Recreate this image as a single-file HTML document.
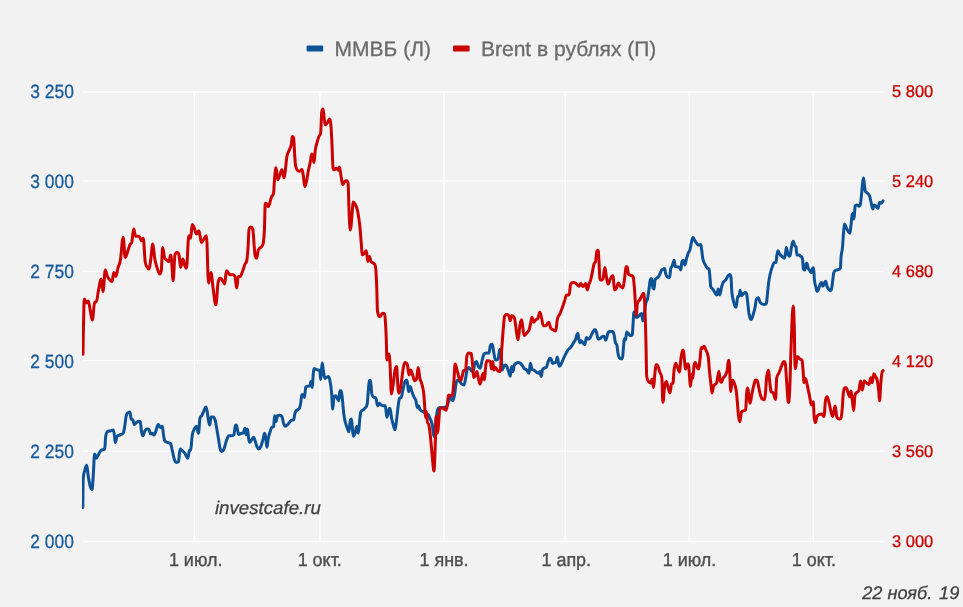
<!DOCTYPE html>
<html lang="ru"><head><meta charset="utf-8"><title>ММВБ и Brent в рублях</title>
<style>html,body{margin:0;padding:0;background:#f2f2f2;}body{width:963px;height:607px;overflow:hidden;}svg{display:block;will-change:transform;}text{font-family:"Liberation Sans",sans-serif;text-rendering:geometricPrecision;}</style></head><body>
<svg width="963" height="607" viewBox="0 0 963 607">
<rect x="0" y="0" width="963" height="607" fill="#f2f2f2"/>
<g fill="#ffffff">
<rect x="193.80" y="91.35" width="1.30" height="450.80"/>
<rect x="319.30" y="91.35" width="1.30" height="450.80"/>
<rect x="443.30" y="91.35" width="1.30" height="450.80"/>
<rect x="564.55" y="91.35" width="1.30" height="450.80"/>
<rect x="688.55" y="91.35" width="1.30" height="450.80"/>
<rect x="812.65" y="91.35" width="1.30" height="450.80"/>
<rect x="83" y="91.35" width="801" height="1.30"/>
<rect x="83" y="180.35" width="801" height="1.30"/>
<rect x="83" y="270.65" width="801" height="1.30"/>
<rect x="83" y="359.95" width="801" height="1.30"/>
<rect x="83" y="450.45" width="801" height="1.30"/>
<rect x="83" y="540.85" width="801" height="1.30"/>
</g>
<g font-size="19.2" fill="#185a9c" stroke="#185a9c" stroke-width="0.3" text-anchor="end">
<text transform="translate(73.9,98.00) scale(0.908,1)">3 250</text>
<text transform="translate(73.9,187.90) scale(0.908,1)">3 000</text>
<text transform="translate(73.9,277.80) scale(0.908,1)">2 750</text>
<text transform="translate(73.9,367.70) scale(0.908,1)">2 500</text>
<text transform="translate(73.9,457.60) scale(0.908,1)">2 250</text>
<text transform="translate(73.9,547.50) scale(0.908,1)">2 000</text>
</g>
<g font-size="17" fill="#cc0000" stroke="#cc0000" stroke-width="0.3" text-anchor="start">
<text transform="translate(892.1,97.10) scale(0.967,1)">5 800</text>
<text transform="translate(892.1,187.00) scale(0.967,1)">5 240</text>
<text transform="translate(892.1,276.90) scale(0.967,1)">4 680</text>
<text transform="translate(892.1,366.80) scale(0.967,1)">4 120</text>
<text transform="translate(892.1,456.70) scale(0.967,1)">3 560</text>
<text transform="translate(892.1,546.60) scale(0.967,1)">3 000</text>
</g>
<g font-size="18.8" fill="#4e4e4e" stroke="#4e4e4e" stroke-width="0.4" text-anchor="middle">
<text transform="translate(195.65,566.3) scale(0.955,1)">1 июл.</text>
<text transform="translate(319.75,566.3) scale(0.955,1)">1 окт.</text>
<text transform="translate(444.05,566.3) scale(0.955,1)">1 янв.</text>
<text transform="translate(566.25,566.3) scale(0.955,1)">1 апр.</text>
<text transform="translate(689.45,566.3) scale(0.955,1)">1 июл.</text>
<text transform="translate(813.95,566.3) scale(0.955,1)">1 окт.</text>
</g>
<text transform="translate(214.9,514.2) scale(1.022,1)" font-size="18.3" font-style="italic" fill="#404040" stroke="#404040" stroke-width="0.25">investcafe.ru</text>
<text x="959.3" y="599.25" font-size="18.2" font-style="italic" fill="#404040" stroke="#404040" stroke-width="0.25" text-anchor="end">22 нояб.<tspan dx="1.8"> 19</tspan></text>
<rect x="306.6" y="45.55" width="16.6" height="5.9" rx="1" fill="#0d5295"/>
<text x="334.6" y="55.8" font-size="21" fill="#6b6b6b" stroke="#6b6b6b" stroke-width="0.3">ММВБ (Л)</text>
<rect x="453.0" y="45.55" width="16.6" height="5.9" rx="1" fill="#cc0000"/>
<text x="481.0" y="55.8" font-size="21" fill="#6b6b6b" stroke="#6b6b6b" stroke-width="0.3">Brent в рублях (П)</text>
<defs><clipPath id="plot"><rect x="82" y="80" width="803.5" height="470"/></clipPath></defs>
<g fill="none" stroke-width="3" stroke-linejoin="round" stroke-linecap="round" clip-path="url(#plot)">
<path stroke="#0d5295" d="M82.8 507.6C82.8 507.6 83.0 490.9 83.1 480.4C83.9 469.9 84.2 473.1 85.0 469.9C85.7 467.0 86.0 465.2 86.7 465.2C87.3 465.2 87.7 472.7 88.3 476.5C89.1 481.2 89.5 483.7 90.3 486.5C91.0 488.9 91.3 489.5 92.0 489.5C92.5 489.5 92.8 482.0 93.3 474.9C93.8 467.8 94.1 454.1 94.6 454.1C95.3 454.1 95.6 458.2 96.3 458.2C97.1 458.2 97.5 456.2 98.3 454.9C99.5 453.0 100.1 450.8 101.3 450.2C102.1 449.6 102.5 449.9 103.3 449.6C103.8 449.4 104.1 449.6 104.6 449.1C105.1 448.6 105.3 438.8 105.8 435.8C106.4 431.8 106.8 432.4 107.4 431.6C108.8 430.8 109.4 431.2 110.8 430.8C111.8 430.5 112.3 429.9 113.3 429.9C113.7 429.9 114.0 432.2 114.4 434.9C114.8 437.2 114.9 442.4 115.3 442.4C115.9 442.4 116.3 438.3 116.9 436.6C118.1 434.9 118.7 435.7 119.9 434.9C121.4 434.0 122.1 434.9 123.6 432.4C124.1 429.9 124.4 428.3 124.9 425.0C125.4 421.7 125.7 417.6 126.2 415.8C127.2 412.6 127.6 413.0 128.6 412.5C129.1 412.0 129.4 412.0 129.9 412.0C130.4 412.0 130.7 418.2 131.2 419.1C131.9 420.0 132.2 419.1 132.9 420.0C133.5 420.9 133.8 424.6 134.4 424.6C135.2 424.6 135.7 423.2 136.5 422.5C137.3 421.9 137.7 421.3 138.5 421.3C139.2 421.3 139.5 421.3 140.2 421.6C140.7 421.9 141.0 428.9 141.5 431.6C142.1 434.5 142.3 435.8 142.9 435.8C143.7 435.8 144.1 432.0 144.9 430.8C145.9 429.3 146.4 429.1 147.4 429.1C148.0 429.1 148.4 429.1 149.0 429.6C149.7 430.1 150.0 434.1 150.7 434.1C151.3 434.1 151.7 433.3 152.3 433.3C153.0 433.3 153.3 434.9 154.0 434.9C154.7 434.9 155.0 433.3 155.7 431.6C156.7 429.1 157.2 424.6 158.2 424.6C159.2 424.6 159.7 427.5 160.7 427.5C161.3 427.5 161.7 426.3 162.3 426.3C162.8 426.3 163.0 431.8 163.5 434.9C163.9 437.4 164.1 438.2 164.5 440.3C165.6 442.4 166.2 441.8 167.3 442.4C168.6 443.1 169.3 442.4 170.6 443.6C171.3 444.8 171.6 447.9 172.3 450.7C173.2 454.4 173.6 457.4 174.5 459.9C175.3 462.1 175.7 462.4 176.5 462.4C177.3 462.4 177.7 462.4 178.5 461.5C179.1 460.6 179.5 449.1 180.1 449.1C181.0 449.1 181.4 449.9 182.3 450.7C183.3 451.6 183.8 451.8 184.8 453.2C186.0 454.8 186.6 458.2 187.8 458.2C188.4 458.2 188.8 451.5 189.4 450.7C189.9 449.9 190.1 450.7 190.6 449.9C191.3 449.1 191.6 439.0 192.3 434.9C192.9 431.0 193.3 431.2 193.9 429.9C194.9 427.8 195.4 426.3 196.4 426.3C197.2 426.3 197.6 433.3 198.4 433.3C199.1 433.3 199.4 419.2 200.1 417.5C200.7 415.8 201.1 416.9 201.7 415.8C202.6 414.2 203.0 412.6 203.9 410.8C204.7 409.1 205.1 407.0 205.9 407.0C206.4 407.0 206.7 409.0 207.2 411.7C207.7 414.2 207.9 417.4 208.4 420.0C208.9 422.8 209.2 425.0 209.7 425.0C210.3 425.0 210.5 417.0 211.1 417.0C211.9 417.0 212.3 417.0 213.1 417.0C213.9 417.0 214.3 417.5 215.1 420.0C215.7 422.0 216.1 424.8 216.7 428.3C217.4 432.1 217.7 434.4 218.4 438.3C219.2 443.1 219.7 448.2 220.5 449.9C221.0 451.6 221.2 451.6 221.7 451.6C222.6 451.6 223.0 451.1 223.9 449.1C224.9 446.8 225.4 443.5 226.4 440.8C227.4 438.1 227.9 435.8 228.9 435.8C229.9 435.8 230.4 435.8 231.4 435.8C232.4 435.8 232.8 435.8 233.8 434.9C234.5 434.0 234.8 425.7 235.5 425.3C235.8 424.9 236.0 424.9 236.3 424.9C236.8 424.9 237.0 427.8 237.5 429.8C237.9 431.6 238.2 434.5 238.6 434.5C239.5 434.5 239.9 433.8 240.8 433.5C241.8 433.1 242.3 433.5 243.3 432.8C244.0 432.1 244.3 428.2 245.0 428.2C245.4 428.2 245.7 434.8 246.1 434.8C246.7 434.8 246.9 429.0 247.5 429.0C247.9 429.0 248.2 435.4 248.6 438.2C249.0 440.7 249.2 442.3 249.6 442.3C250.4 442.3 250.8 440.8 251.6 439.8C252.4 438.8 252.8 437.3 253.6 437.3C254.3 437.3 254.6 439.6 255.3 441.5C255.9 443.3 256.3 445.0 256.9 446.5C257.6 448.0 257.9 449.0 258.6 449.0C259.5 449.0 259.9 448.4 260.8 446.5C261.6 444.7 262.1 442.7 262.9 439.8C263.6 437.4 263.9 433.2 264.6 433.2C265.1 433.2 265.3 435.3 265.8 438.2C266.2 440.9 266.5 447.3 266.9 447.3C267.5 447.3 267.7 441.0 268.3 438.2C268.9 435.0 269.3 434.2 269.9 432.3C270.7 429.9 271.1 428.1 271.9 427.3C272.6 426.5 272.9 427.3 273.6 426.5C274.0 425.7 274.2 415.7 274.6 415.7C275.2 415.7 275.6 421.5 276.2 421.5C276.7 421.5 276.9 416.2 277.4 415.7C278.4 415.2 278.9 415.2 279.9 415.2C280.7 415.2 281.1 415.2 281.9 416.5C282.6 417.8 282.9 421.2 283.6 423.2C284.2 425.1 284.6 426.2 285.2 426.2C286.1 426.2 286.5 425.7 287.4 424.9C288.2 424.2 288.7 423.4 289.5 422.4C290.3 421.5 290.7 420.5 291.5 420.2C292.3 419.9 292.7 420.2 293.5 419.9C294.2 419.6 294.5 414.1 295.2 412.4C296.1 410.1 296.5 410.8 297.4 409.9C298.2 409.1 298.7 409.9 299.5 408.2C300.0 406.5 300.2 405.9 300.7 403.2C301.2 400.5 301.4 395.2 301.9 394.9C302.4 394.6 302.7 394.6 303.2 394.6C303.7 394.6 304.0 397.4 304.5 397.4C305.0 397.4 305.2 388.5 305.7 387.4C306.3 386.3 306.7 386.5 307.3 386.3C308.3 385.9 308.8 386.3 309.8 385.8C310.3 385.3 310.5 381.6 311.0 381.6C311.5 381.6 311.8 387.4 312.3 387.4C312.7 387.4 312.8 379.0 313.2 375.0C313.5 371.5 313.7 368.6 314.0 368.6C314.7 368.6 315.0 368.8 315.7 369.1C316.5 369.4 317.0 369.8 317.8 370.0C318.6 370.2 319.0 370.0 319.8 370.3C320.1 370.6 320.3 379.6 320.6 379.6C321.0 379.6 321.1 373.5 321.5 370.0C321.8 366.9 322.0 363.0 322.3 363.0C322.8 363.0 323.0 368.7 323.5 371.6C324.0 374.8 324.3 378.3 324.8 378.3C325.5 378.3 325.8 377.8 326.5 377.5C327.3 377.1 327.7 376.6 328.5 376.6C329.1 376.6 329.5 378.4 330.1 381.6C330.7 384.4 330.9 385.9 331.5 391.6C332.0 396.9 332.3 409.1 332.8 409.1C333.3 409.1 333.5 397.5 334.0 396.6C334.6 395.7 335.0 395.7 335.6 395.7C336.3 395.7 336.6 397.6 337.3 398.6C337.9 399.6 338.3 400.7 338.9 400.7C339.3 400.7 339.4 390.8 339.8 390.8C340.3 390.8 340.6 390.8 341.1 390.8C341.6 390.8 341.8 394.1 342.3 398.2C342.9 403.7 343.3 410.1 343.9 414.9C344.6 420.1 344.9 420.5 345.6 423.2C346.3 425.9 346.6 426.4 347.3 428.2C347.9 429.9 348.3 431.8 348.9 431.8C349.4 431.8 349.6 424.0 350.1 421.5C350.6 419.0 350.9 419.0 351.4 419.0C351.7 419.0 351.9 423.7 352.2 426.5C352.7 430.6 352.9 436.2 353.4 436.2C354.1 436.2 354.4 435.2 355.1 433.2C355.7 431.3 356.1 426.5 356.7 426.5C357.4 426.5 357.7 433.2 358.4 433.2C358.9 433.2 359.2 424.8 359.7 419.9C360.1 416.5 360.2 414.9 360.6 412.4C361.6 409.9 362.1 410.9 363.1 409.9C364.1 408.9 364.6 408.8 365.6 407.4C366.2 406.5 366.6 407.4 367.2 404.1C367.7 400.8 367.9 395.0 368.4 389.9C368.8 385.7 369.0 381.3 369.4 380.8C369.8 380.3 370.1 380.3 370.5 380.3C371.0 380.3 371.2 389.7 371.7 393.3C372.4 396.9 372.7 396.1 373.4 396.9C374.4 398.2 375.0 396.9 376.0 398.6C376.7 400.3 377.0 405.7 377.7 405.7C378.4 405.7 378.7 403.2 379.4 403.2C380.0 403.2 380.4 404.5 381.0 404.9C381.8 405.5 382.2 405.7 383.0 405.7C383.9 405.7 384.4 405.7 385.3 405.7C385.9 405.7 386.3 417.3 386.9 417.3C387.8 417.3 388.2 409.8 389.1 409.0C389.4 408.2 389.6 408.2 389.9 408.2C390.6 408.2 390.9 414.9 391.6 418.2C392.3 421.5 392.6 422.4 393.3 424.8C393.9 427.0 394.3 429.8 394.9 429.8C395.6 429.8 395.9 424.8 396.6 419.8C397.3 414.8 397.6 409.8 398.3 404.9C398.8 401.2 399.1 399.0 399.6 398.2C400.2 397.4 400.6 398.2 401.2 397.4C401.9 396.6 402.2 392.8 402.9 389.9C403.7 386.5 404.1 383.3 404.9 381.6C405.7 379.9 406.1 379.9 406.9 379.9C407.6 379.9 407.9 391.6 408.6 391.6C409.2 391.6 409.6 386.6 410.2 386.6C410.9 386.6 411.2 389.7 411.9 391.6C412.8 394.0 413.2 395.5 414.1 397.4C414.7 398.8 415.1 398.0 415.7 399.9C416.4 402.0 416.7 407.4 417.4 407.4C417.8 407.4 418.1 405.7 418.5 405.7C419.2 405.7 419.5 409.0 420.2 409.9C421.3 411.3 421.8 410.9 422.9 411.5C424.0 412.2 424.6 412.5 425.7 413.2C426.7 413.8 427.2 413.6 428.2 414.8C428.9 415.6 429.2 416.5 429.9 418.2C430.9 420.5 431.3 420.5 432.3 424.8C433.0 427.8 433.3 436.5 434.0 436.5C435.0 436.5 435.5 423.5 436.5 416.0C436.9 412.7 437.2 411.5 437.6 409.5C438.6 407.5 439.0 407.6 440.0 407.5C441.6 407.4 442.4 407.5 444.0 407.4C445.0 407.3 445.5 407.4 446.5 406.5C447.3 405.6 447.7 403.8 448.5 402.0C449.3 400.1 449.8 397.4 450.6 397.4C451.5 397.4 451.9 400.7 452.8 400.7C453.5 400.7 453.8 398.4 454.5 394.9C455.3 390.8 455.7 383.3 456.5 381.6C457.1 379.9 457.5 379.9 458.1 379.9C458.8 379.9 459.1 380.8 459.8 381.6C460.6 382.5 461.0 383.5 461.8 384.1C462.7 384.8 463.1 384.9 464.0 384.9C464.6 384.9 465.0 381.4 465.6 378.3C466.3 375.0 466.6 370.8 467.3 369.1C467.9 367.4 468.3 367.4 468.9 367.4C469.9 367.4 470.4 369.8 471.4 370.8C472.1 371.5 472.4 371.6 473.1 371.6C473.8 371.6 474.1 365.0 474.8 363.3C475.4 361.6 475.8 361.6 476.4 361.6C477.2 361.6 477.6 365.2 478.4 366.6C479.1 367.8 479.4 368.3 480.1 368.3C480.9 368.3 481.4 363.1 482.2 360.0C482.9 357.5 483.2 355.2 483.9 354.1C484.8 353.0 485.2 353.0 486.1 353.0C487.2 353.0 487.8 353.0 488.9 353.0C489.6 353.0 489.9 345.8 490.6 345.0C491.2 344.2 491.6 344.2 492.2 344.2C492.9 344.2 493.2 350.1 493.9 353.3C494.6 356.5 494.9 360.0 495.6 360.0C496.6 360.0 497.0 360.0 498.0 359.1C498.7 358.2 499.0 350.9 499.7 350.0C500.2 349.1 500.5 349.1 501.0 349.1C501.5 349.1 501.7 369.9 502.2 369.9C503.0 369.9 503.4 366.5 504.2 365.7C504.8 364.9 505.2 364.9 505.8 364.9C506.5 364.9 506.8 366.5 507.5 368.2C508.1 369.8 508.5 371.4 509.1 373.2C509.6 374.6 509.8 376.2 510.3 376.2C510.8 376.2 511.1 366.5 511.6 366.5C512.2 366.5 512.4 371.5 513.0 371.5C513.4 371.5 513.7 367.0 514.1 365.7C514.8 363.8 515.1 364.0 515.8 363.5C516.8 362.7 517.3 362.4 518.3 362.4C519.1 362.4 519.5 362.6 520.3 363.2C521.2 363.9 521.6 364.5 522.5 365.7C523.1 366.6 523.5 367.9 524.1 368.5C525.1 369.5 525.6 368.9 526.6 369.8C527.6 370.7 528.1 373.2 529.1 373.2C529.6 373.2 529.8 363.2 530.3 363.2C530.9 363.2 531.3 367.8 531.9 369.0C532.8 370.2 533.2 369.6 534.1 370.2C535.1 370.9 535.6 371.6 536.6 372.3C537.4 372.8 537.8 373.2 538.6 373.2C539.1 373.2 539.4 371.5 539.9 371.5C540.4 371.5 540.7 376.5 541.2 376.5C541.7 376.5 541.9 371.4 542.4 369.8C543.1 368.2 543.4 368.7 544.1 368.2C545.1 367.5 545.6 368.2 546.6 366.9C547.2 365.6 547.6 363.2 548.2 361.5C548.9 359.7 549.2 358.2 549.9 358.2C550.4 358.2 550.7 358.2 551.2 359.0C551.7 359.8 551.9 363.2 552.4 363.2C553.1 363.2 553.4 363.1 554.1 362.9C554.7 362.7 555.1 362.9 555.7 362.4C556.4 361.9 556.7 356.9 557.4 356.9C557.8 356.9 558.1 361.3 558.5 363.2C558.9 365.0 559.1 366.2 559.5 366.2C560.3 366.2 560.7 364.8 561.5 363.2C562.5 361.2 563.0 359.6 564.0 357.4C564.9 355.5 565.3 354.5 566.2 352.9C567.0 351.4 567.4 350.6 568.2 349.6C569.2 348.4 569.7 348.7 570.7 347.4C571.7 346.1 572.2 344.9 573.2 343.2C574.2 341.5 574.7 341.4 575.7 339.1C576.1 338.1 576.4 336.1 576.8 334.9C577.2 333.9 577.4 333.6 577.8 333.6C578.3 333.6 578.5 337.7 579.0 339.9C579.3 341.4 579.5 342.9 579.8 342.9C580.4 342.9 580.6 340.7 581.2 340.7C582.0 340.7 582.4 342.3 583.2 343.2C583.8 343.9 584.2 344.6 584.8 344.6C585.5 344.6 585.8 337.4 586.5 337.4C587.1 337.4 587.5 339.1 588.1 339.1C588.8 339.1 589.1 339.0 589.8 338.2C590.5 337.4 590.8 336.3 591.5 334.9C592.3 333.3 592.7 332.0 593.5 330.8C594.1 329.9 594.5 329.6 595.1 329.6C595.7 329.6 595.9 330.6 596.5 332.4C597.1 334.4 597.5 339.1 598.1 339.1C598.8 339.1 599.1 339.0 599.8 338.6C600.8 338.0 601.3 337.2 602.3 336.6C603.0 336.2 603.3 336.2 604.0 336.2C604.6 336.2 605.0 340.2 605.6 340.2C606.1 340.2 606.3 338.9 606.8 337.4C607.3 335.8 607.6 333.2 608.1 332.4C608.8 331.6 609.1 331.6 609.8 331.6C610.8 331.6 611.3 331.6 612.3 331.6C612.9 331.6 613.3 331.9 613.9 334.1C614.6 336.5 614.9 341.5 615.6 343.2C616.1 344.9 616.3 343.2 616.8 344.9C617.3 346.6 617.6 351.4 618.1 354.0C618.6 356.6 618.9 356.8 619.4 357.9C620.2 359.0 620.6 359.0 621.4 359.0C621.9 359.0 622.2 359.0 622.7 356.5C623.0 354.0 623.1 351.1 623.4 348.2C623.8 344.0 624.0 338.6 624.4 338.6C624.9 338.6 625.1 339.9 625.6 339.9C626.0 339.9 626.3 331.9 626.7 331.9C627.4 331.9 627.7 332.9 628.4 333.6C629.3 334.5 629.7 335.7 630.6 335.7C631.2 335.7 631.6 335.7 632.2 334.9C632.6 334.1 632.7 328.0 633.1 323.3C633.4 319.1 633.6 313.4 633.9 312.5C634.4 311.6 634.6 311.6 635.1 311.6C635.6 311.6 635.9 317.5 636.4 317.5C637.2 317.5 637.6 317.0 638.4 316.3C639.2 315.6 639.7 314.8 640.5 314.1C641.0 313.7 641.2 313.6 641.7 313.6C642.1 313.6 642.3 320.8 642.7 320.8C643.9 320.8 644.6 308.8 645.8 303.2C646.5 300.1 646.8 302.1 647.5 299.0C648.1 296.1 648.5 292.6 649.1 288.2C649.6 284.9 649.8 281.2 650.3 279.9C650.8 278.6 651.1 278.6 651.6 278.6C652.2 278.6 652.4 287.4 653.0 288.2C653.4 289.0 653.7 289.0 654.1 289.0C654.5 289.0 654.6 281.6 655.0 279.9C655.6 278.2 656.0 278.9 656.6 278.2C657.6 277.2 658.1 277.3 659.1 275.7C660.0 274.3 660.4 272.1 661.3 270.7C662.1 269.4 662.5 269.6 663.3 269.1C663.8 268.8 664.1 268.6 664.6 268.6C665.1 268.6 665.3 272.7 665.8 274.1C666.4 276.0 666.8 276.4 667.4 276.9C668.3 277.4 668.7 277.4 669.6 277.4C670.1 277.4 670.3 269.8 670.8 268.2C671.2 266.6 671.5 267.6 671.9 266.6C672.5 265.3 672.7 264.0 673.3 262.4C673.6 261.5 673.8 260.3 674.1 260.3C674.6 260.3 674.8 266.3 675.3 266.6C676.1 266.9 676.6 266.7 677.4 266.9C678.3 267.1 678.7 266.9 679.6 267.4C680.0 267.9 680.3 269.9 680.7 269.9C681.2 269.9 681.4 263.5 681.9 261.9C682.4 260.3 682.7 260.3 683.2 260.3C683.9 260.3 684.2 264.9 684.9 264.9C685.6 264.9 685.9 260.7 686.6 258.3C687.2 256.1 687.6 254.9 688.2 253.3C688.9 251.6 689.2 252.2 689.9 249.9C690.6 247.6 690.9 244.4 691.6 241.6C692.1 239.5 692.4 237.5 692.9 237.5C693.6 237.5 693.9 239.3 694.6 240.3C695.4 241.5 695.7 242.1 696.5 243.0C697.3 244.0 697.7 245.0 698.5 245.0C699.4 245.0 699.8 244.6 700.7 244.6C701.2 244.6 701.4 248.4 701.9 251.6C702.3 254.2 702.5 257.4 702.9 259.1C703.7 262.4 704.1 262.5 704.9 264.1C705.9 266.1 706.4 267.0 707.4 268.2C708.0 269.0 708.4 268.2 709.0 269.1C709.4 270.0 709.5 272.9 709.9 276.6C710.2 279.9 710.4 284.0 710.7 286.5C711.5 289.0 712.0 287.8 712.8 289.0C713.6 290.2 714.0 291.2 714.8 292.4C715.6 293.6 716.0 294.9 716.8 294.9C717.4 294.9 717.6 289.0 718.2 289.0C718.8 289.0 719.2 294.9 719.8 294.9C720.5 294.9 720.8 289.9 721.5 287.4C722.2 284.9 722.5 283.6 723.2 282.4C724.2 280.6 724.7 281.3 725.7 279.9C726.7 278.6 727.1 276.9 728.1 275.7C728.8 274.8 729.1 274.6 729.8 274.6C730.3 274.6 730.6 274.6 731.1 278.2C731.4 281.8 731.5 288.2 731.8 291.5C732.2 296.2 732.4 296.2 732.8 298.2C733.5 301.5 733.8 302.9 734.5 304.8C735.1 306.6 735.5 307.3 736.1 307.3C736.8 307.3 737.1 296.8 737.8 296.5C738.3 296.2 738.5 296.5 739.0 296.2C739.4 295.9 739.7 290.2 740.1 290.2C740.7 290.2 740.9 295.7 741.5 295.7C742.3 295.7 742.7 294.1 743.5 293.5C744.3 292.8 744.8 292.4 745.6 292.4C746.1 292.4 746.3 292.5 746.8 294.9C747.2 296.9 747.4 299.7 747.8 303.2C748.2 307.0 748.5 310.9 748.9 313.1C749.8 317.4 750.2 319.5 751.1 319.5C751.9 319.5 752.3 317.2 753.1 314.8C753.9 312.4 754.3 311.1 755.1 307.3C755.6 304.8 755.9 300.2 756.4 299.0C757.2 297.8 757.6 297.8 758.4 297.8C759.1 297.8 759.4 301.2 760.1 302.3C760.9 303.7 761.4 303.6 762.2 304.0C763.2 304.5 763.7 304.5 764.7 304.5C765.4 304.5 765.7 304.5 766.4 303.2C766.9 301.9 767.2 296.2 767.7 291.5C768.2 287.2 768.4 283.9 768.9 280.7C769.6 276.2 769.9 275.1 770.6 272.4C771.4 269.1 771.9 267.9 772.7 265.7C773.4 263.9 773.7 262.4 774.4 262.4C775.0 262.4 775.4 262.4 776.0 262.4C776.3 262.4 776.4 258.2 776.7 256.6C777.2 253.6 777.5 250.8 778.0 250.8C778.7 250.8 779.0 253.2 779.7 254.1C780.7 255.5 781.2 255.7 782.2 256.6C783.1 257.4 783.5 258.3 784.4 258.3C784.8 258.3 785.1 255.7 785.5 253.3C785.9 251.4 786.0 247.5 786.4 247.5C786.9 247.5 787.2 251.6 787.7 253.3C788.2 254.9 788.4 255.3 788.9 255.8C789.3 256.3 789.4 256.3 789.8 256.3C790.5 256.3 790.8 249.9 791.5 246.9C792.2 243.9 792.5 241.3 793.2 241.3C793.8 241.3 794.2 244.3 794.8 245.6C795.3 246.6 795.5 245.6 796.0 246.9C796.4 248.2 796.5 255.0 796.9 255.0C797.7 255.0 798.0 255.0 798.8 255.0C799.6 255.0 799.9 255.5 800.7 256.3C801.4 257.0 801.8 256.3 802.5 258.8C802.9 261.3 803.1 268.7 803.5 269.4C804.0 270.1 804.3 270.1 804.8 270.1C805.3 270.1 805.6 264.4 806.1 263.8C806.4 263.2 806.6 263.2 806.9 263.2C807.4 263.2 807.7 266.9 808.2 268.2C808.8 269.9 809.2 269.8 809.8 270.7C810.4 271.6 810.7 272.6 811.3 272.6C811.8 272.6 812.1 268.6 812.6 268.2C813.0 267.8 813.2 267.8 813.6 267.8C813.9 267.8 814.1 277.3 814.4 280.1C814.9 284.7 815.2 284.2 815.7 286.3C816.3 288.8 816.6 291.6 817.2 291.6C817.8 291.6 818.2 289.8 818.8 288.2C819.4 286.7 819.7 285.0 820.3 283.8C820.8 282.8 821.1 282.6 821.6 282.6C822.1 282.6 822.3 286.3 822.8 286.3C823.5 286.3 823.8 283.8 824.5 282.6C825.0 281.8 825.2 281.3 825.7 281.3C826.2 281.3 826.5 285.0 827.0 286.3C827.8 288.2 828.1 288.6 828.9 289.5C829.6 290.4 830.0 290.7 830.7 290.7C831.1 290.7 831.2 290.7 831.6 288.9C832.0 286.9 832.2 284.4 832.6 281.3C833.0 278.2 833.2 275.7 833.6 273.2C834.2 270.7 834.5 271.3 835.1 270.7C835.9 269.9 836.2 270.1 837.0 269.8C837.8 269.5 838.1 269.8 838.9 269.4C839.5 269.1 839.8 269.4 840.4 268.2C840.7 267.0 840.8 259.1 841.1 256.3C841.6 251.1 841.9 253.2 842.4 248.2C842.8 244.0 843.1 238.2 843.5 233.2C843.9 228.6 844.1 224.1 844.5 224.1C845.2 224.1 845.5 226.0 846.2 227.4C847.0 229.0 847.4 230.2 848.2 231.5C848.9 232.6 849.2 233.2 849.9 233.2C850.4 233.2 850.7 227.3 851.2 223.2C851.6 219.7 851.9 215.0 852.3 214.1C852.7 213.2 852.8 213.2 853.2 213.2C853.5 213.2 853.7 219.1 854.0 219.1C854.5 219.1 854.7 206.7 855.2 205.8C855.8 204.9 856.2 204.9 856.8 204.9C857.7 204.9 858.1 206.3 859.0 206.3C859.5 206.3 859.7 206.3 860.2 204.9C860.7 203.5 861.0 199.6 861.5 194.9C861.8 192.0 862.0 188.5 862.3 185.8C862.8 181.7 863.0 178.0 863.5 178.0C863.9 178.0 864.1 182.8 864.5 185.8C864.8 187.9 864.9 190.1 865.2 190.8C866.0 193.0 866.5 192.0 867.3 193.0C868.2 194.0 868.6 193.6 869.5 195.8C870.1 197.4 870.5 199.8 871.1 202.4C871.8 205.1 872.1 209.1 872.8 209.1C873.5 209.1 873.8 204.9 874.5 204.9C875.3 204.9 875.7 206.1 876.5 206.9C877.1 207.5 877.5 208.3 878.1 208.3C878.7 208.3 878.9 202.4 879.5 202.4C880.1 202.4 880.5 203.3 881.1 203.3C881.9 203.3 883.1 200.8 883.1 200.8"/>
<path stroke="#cc0000" d="M83.0 354.3C83.0 354.3 83.2 336.8 83.4 330.0C83.8 314.7 83.9 299.0 84.3 299.0C85.1 299.0 85.4 303.0 86.2 303.0C87.0 303.0 87.4 301.0 88.2 301.0C89.0 301.0 89.4 306.3 90.2 310.0C91.0 313.9 91.5 320.0 92.3 320.0C93.3 320.0 93.7 303.1 94.7 302.3C95.3 301.5 95.7 302.3 96.3 301.5C97.2 300.7 97.7 294.1 98.6 289.8C99.6 285.1 100.1 279.0 101.1 279.0C101.9 279.0 102.2 291.5 103.0 291.5C103.9 291.5 104.4 269.9 105.3 269.9C106.1 269.9 106.6 274.7 107.4 276.5C108.4 278.7 108.9 278.8 109.9 279.9C110.8 280.8 111.2 281.5 112.1 281.5C112.8 281.5 113.1 272.4 113.8 272.4C114.6 272.4 115.0 276.5 115.8 276.5C116.6 276.5 117.1 271.2 117.9 268.2C118.9 264.6 119.4 265.7 120.4 259.9C121.5 253.4 122.1 237.5 123.2 237.5C124.0 237.5 124.4 257.4 125.2 257.4C126.1 257.4 126.5 254.7 127.4 252.4C128.4 249.7 128.9 247.3 129.9 244.9C130.7 243.0 131.1 244.9 131.9 241.6C132.6 238.3 133.0 229.1 133.7 229.1C134.5 229.1 134.9 236.3 135.7 236.3C136.7 236.3 137.2 236.3 138.2 236.3C138.9 236.3 139.2 236.6 139.9 237.5C140.5 238.4 140.9 240.8 141.5 240.8C142.2 240.8 142.5 238.3 143.2 238.3C144.0 238.3 144.4 255.8 145.2 261.6C146.1 267.4 146.5 265.7 147.4 267.4C148.0 268.7 148.4 269.1 149.0 269.1C149.7 269.1 150.0 264.4 150.7 259.9C151.5 254.4 152.0 244.1 152.8 244.1C153.6 244.1 154.0 254.8 154.8 259.1C155.8 264.5 156.3 265.2 157.3 268.2C158.3 271.2 158.8 274.0 159.8 274.0C160.4 274.0 160.6 274.0 161.2 271.5C161.8 269.0 162.1 247.4 162.7 247.4C163.4 247.4 163.8 254.9 164.5 257.4C165.3 259.9 165.7 259.2 166.5 259.9C167.5 260.8 168.0 261.6 169.0 261.6C169.6 261.6 170.0 254.9 170.6 254.9C171.1 254.9 171.3 258.2 171.8 263.2C172.3 268.6 172.6 280.7 173.1 280.7C173.9 280.7 174.3 255.8 175.1 254.1C176.0 252.4 176.4 252.4 177.3 252.4C178.0 252.4 178.3 252.4 179.0 254.9C179.6 257.4 180.0 267.4 180.6 267.4C181.5 267.4 181.9 259.1 182.8 259.1C183.6 259.1 184.0 263.7 184.8 265.7C185.4 267.3 185.8 268.2 186.4 268.2C187.4 268.2 187.9 235.8 188.9 235.8C189.6 235.8 189.9 238.3 190.6 238.3C191.3 238.3 191.6 224.6 192.3 224.6C193.1 224.6 193.6 226.4 194.4 228.3C195.2 230.2 195.6 234.1 196.4 234.1C197.4 234.1 197.9 230.8 198.9 230.8C199.9 230.8 200.4 242.4 201.4 242.4C202.4 242.4 202.9 240.4 203.9 239.1C204.9 237.8 205.4 235.8 206.4 235.8C207.3 235.8 207.7 283.2 208.6 283.2C209.5 283.2 210.0 272.4 210.9 272.4C211.8 272.4 212.2 282.5 213.1 288.2C214.2 295.5 214.8 304.8 215.9 304.8C216.7 304.8 217.2 288.2 218.0 283.2C219.0 278.2 219.5 278.2 220.5 278.2C221.5 278.2 222.0 280.1 223.0 281.5C223.7 282.4 224.0 284.0 224.7 284.0C225.4 284.0 225.7 270.7 226.4 270.7C227.0 270.7 227.4 271.7 228.0 272.4C228.8 273.3 229.2 274.8 230.0 274.8C231.3 274.8 232.0 274.8 233.3 274.8C234.0 274.8 234.3 274.8 235.0 276.5C235.7 278.2 236.0 288.1 236.7 288.1C237.3 288.1 237.7 276.5 238.3 276.5C239.0 276.5 239.3 276.5 240.0 276.5C241.0 276.5 241.5 274.0 242.5 271.5C243.5 269.0 244.0 266.4 245.0 264.0C245.6 262.4 246.0 264.0 246.6 261.5C247.2 259.0 247.4 255.5 248.0 248.2C248.4 242.5 248.7 231.3 249.1 229.1C249.8 226.9 250.1 226.9 250.8 226.9C251.6 226.9 252.0 226.9 252.8 229.1C253.3 231.3 253.6 239.2 254.1 244.9C254.6 250.2 254.8 254.8 255.3 256.5C255.8 258.2 256.1 258.2 256.6 258.2C257.3 258.2 257.6 252.4 258.3 249.9C259.3 247.4 259.8 248.7 260.8 247.4C261.8 246.1 262.3 247.4 263.3 243.2C263.7 239.0 264.0 238.7 264.4 229.9C264.8 222.7 264.9 203.3 265.3 203.3C265.9 203.3 266.3 203.4 266.9 204.1C267.5 204.7 267.7 206.6 268.3 206.6C268.9 206.6 269.3 204.4 269.9 202.5C270.6 200.5 270.9 198.4 271.6 196.7C272.4 194.7 272.8 196.7 273.6 193.1C274.0 189.5 274.2 182.2 274.6 178.2C275.2 172.1 275.5 167.8 276.1 167.8C276.7 167.8 277.1 179.8 277.7 179.8C278.6 179.8 279.0 176.9 279.9 174.8C280.7 172.9 281.1 169.8 281.9 169.8C282.8 169.8 283.2 177.8 284.1 177.8C284.6 177.8 284.9 173.8 285.4 169.8C286.0 165.2 286.3 159.7 286.9 156.5C287.7 152.0 288.2 153.0 289.0 150.7C289.9 148.3 290.3 148.5 291.2 144.9C291.7 142.9 291.9 136.6 292.4 136.6C292.8 136.6 293.1 136.6 293.5 137.4C294.1 138.2 294.3 150.8 294.9 158.2C295.2 162.4 295.4 165.2 295.7 166.5C296.6 170.2 297.0 170.2 297.9 170.7C298.7 171.2 299.1 171.2 299.9 171.2C300.7 171.2 301.1 169.5 301.9 169.5C302.4 169.5 302.7 171.8 303.2 174.8C303.8 178.6 304.2 186.5 304.8 186.5C305.5 186.5 305.8 184.5 306.5 181.5C307.2 178.5 307.5 175.0 308.2 171.5C309.0 167.4 309.4 166.3 310.2 162.4C310.8 159.3 311.2 154.0 311.8 154.0C312.7 154.0 313.1 162.4 314.0 162.4C314.5 162.4 314.8 153.2 315.3 149.9C316.1 144.9 316.5 144.6 317.3 141.6C318.0 139.1 318.3 137.9 319.0 136.2C319.6 134.6 320.0 136.2 320.6 133.3C321.1 130.4 321.3 114.1 321.8 111.6C322.3 109.1 322.6 109.1 323.1 109.1C323.9 109.1 324.3 124.9 325.1 124.9C326.0 124.9 326.4 124.1 327.3 122.9C328.2 121.7 328.6 119.1 329.5 119.1C329.9 119.1 330.2 119.1 330.6 122.4C331.1 125.7 331.3 131.1 331.8 139.9C332.3 149.4 332.6 166.6 333.1 168.2C333.5 169.8 333.6 169.8 334.0 169.8C335.0 169.8 335.4 168.2 336.4 168.2C337.1 168.2 337.4 170.2 338.1 170.2C338.6 170.2 338.9 166.9 339.4 166.9C340.1 166.9 340.4 173.0 341.1 176.5C341.8 180.0 342.1 184.5 342.8 184.5C343.6 184.5 344.0 182.3 344.8 181.5C345.4 180.8 345.8 180.7 346.4 180.7C347.1 180.7 347.4 180.7 348.1 183.1C348.2 185.5 348.3 186.6 348.4 190.0C348.8 201.3 349.0 212.6 349.4 219.9C349.9 228.6 350.1 229.9 350.6 229.9C351.0 229.9 351.3 222.7 351.7 218.3C352.4 211.5 352.7 202.0 353.4 202.0C354.3 202.0 354.7 203.0 355.6 205.0C356.4 206.9 356.9 207.5 357.7 211.6C358.5 215.5 358.9 217.7 359.7 224.9C360.4 231.0 360.7 236.7 361.4 244.9C361.7 248.7 361.9 254.9 362.2 254.9C363.1 254.9 363.5 254.1 364.4 253.2C365.2 252.4 365.6 250.7 366.4 250.7C366.9 250.7 367.2 261.5 367.7 261.5C368.4 261.5 368.7 256.5 369.4 256.5C370.0 256.5 370.4 260.4 371.0 261.5C372.0 263.1 372.4 262.1 373.4 263.2C374.2 264.1 374.7 263.2 375.5 266.5C375.9 269.8 376.2 273.4 376.6 283.3C377.0 291.4 377.1 306.5 377.5 311.5C378.5 316.5 379.0 316.5 380.0 316.5C381.0 316.5 381.5 313.2 382.5 313.2C383.3 313.2 383.8 313.2 384.6 314.0C385.1 314.8 385.3 320.9 385.8 328.2C386.0 331.3 386.1 334.2 386.3 340.0C386.5 346.9 386.7 360.0 386.9 360.0C387.6 360.0 387.9 354.1 388.6 354.1C389.1 354.1 389.4 354.7 389.9 361.6C390.3 366.4 390.4 374.8 390.8 383.2C391.0 387.8 391.1 394.1 391.3 394.1C392.1 394.1 392.5 388.2 393.3 383.2C394.1 378.2 394.5 371.6 395.3 369.1C395.8 366.6 396.1 366.6 396.6 366.6C397.1 366.6 397.4 381.1 397.9 386.6C398.4 391.7 398.6 393.2 399.1 393.2C399.9 393.2 400.4 388.3 401.2 383.2C402.0 378.3 402.4 372.8 403.2 368.3C403.9 364.5 404.2 362.5 404.9 362.5C405.9 362.5 406.4 362.5 407.4 364.9C408.1 367.3 408.4 374.9 409.1 374.9C409.7 374.9 410.1 369.9 410.7 369.9C411.6 369.9 412.0 373.4 412.9 375.8C413.6 377.7 413.9 380.7 414.6 380.7C415.4 380.7 415.7 380.7 416.5 379.1C417.2 377.5 417.5 367.4 418.2 367.4C418.9 367.4 419.2 375.2 419.9 378.3C420.7 381.9 421.1 381.1 421.9 384.1C422.5 386.5 422.9 387.4 423.5 391.6C423.8 393.7 424.0 395.8 424.3 400.0C424.5 403.2 424.7 406.5 424.9 410.0C425.1 413.5 425.3 417.5 425.5 417.5C425.9 417.5 426.0 411.4 426.4 411.4C426.8 411.4 427.0 419.1 427.4 422.0C428.0 424.9 428.2 422.0 428.8 424.9C429.6 427.8 430.1 433.8 430.9 441.5C431.5 447.0 431.8 452.3 432.4 458.0C433.0 464.1 433.4 471.0 434.0 471.0C434.4 471.0 434.6 461.3 435.0 452.0C435.2 446.5 435.4 441.7 435.6 434.0C435.8 427.6 435.9 416.6 436.1 416.6C436.7 416.6 437.0 433.0 437.6 433.0C438.1 433.0 438.3 426.2 438.8 420.8C439.2 416.7 439.3 410.8 439.7 409.3C440.3 407.8 440.7 407.8 441.3 407.8C442.3 407.8 442.9 408.3 443.9 408.8C444.7 409.2 445.1 410.2 445.9 410.2C446.5 410.2 446.7 408.3 447.3 405.0C447.8 402.2 448.0 394.9 448.5 394.9C449.3 394.9 449.8 395.7 450.6 395.7C451.3 395.7 451.6 395.7 452.3 394.9C453.0 394.1 453.3 387.4 454.0 379.9C454.4 375.1 454.7 364.1 455.1 364.1C455.8 364.1 456.1 366.8 456.8 369.1C457.7 372.1 458.1 374.7 459.0 377.4C459.6 379.4 460.0 380.7 460.6 380.7C461.3 380.7 461.6 378.1 462.3 375.8C462.8 374.2 463.0 371.7 463.5 370.8C464.3 369.9 464.8 370.8 465.6 369.9C466.1 369.0 466.3 360.2 466.8 356.6C467.6 353.0 468.1 353.0 468.9 353.0C469.8 353.0 470.2 353.0 471.1 353.3C471.6 353.6 471.8 357.5 472.3 361.6C472.9 367.1 473.3 377.4 473.9 377.4C474.6 377.4 474.9 376.2 475.6 374.9C476.1 373.9 476.4 371.6 476.9 371.6C477.5 371.6 477.8 376.0 478.4 378.3C479.1 381.0 479.4 384.1 480.1 384.1C480.9 384.1 481.4 378.5 482.2 375.8C482.7 374.2 482.9 373.3 483.4 373.3C483.8 373.3 484.0 379.9 484.4 379.9C484.9 379.9 485.1 371.4 485.6 367.4C486.0 363.7 486.3 360.8 486.7 360.8C487.6 360.8 488.0 360.8 488.9 360.8C489.6 360.8 489.9 360.8 490.6 362.5C490.9 364.2 491.1 369.1 491.4 369.1C491.9 369.1 492.2 361.6 492.7 361.6C493.2 361.6 493.4 369.9 493.9 369.9C494.6 369.9 494.9 367.4 495.6 367.4C496.4 367.4 496.9 370.0 497.7 370.8C498.5 371.6 498.9 371.6 499.7 371.6C499.8 371.6 499.9 371.6 500.0 371.5C500.7 371.4 501.0 358.8 501.7 349.9C502.3 341.5 502.7 335.6 503.3 328.3C503.9 321.9 504.1 317.0 504.7 315.8C505.5 314.6 505.9 314.6 506.7 314.6C507.5 314.6 507.8 314.6 508.6 315.3C509.3 316.0 509.6 320.8 510.3 320.8C510.8 320.8 511.1 315.8 511.6 315.8C512.6 315.8 513.2 315.8 514.2 317.3C514.8 318.8 515.2 322.7 515.8 326.5C516.7 331.7 517.1 339.8 518.0 339.8C518.8 339.8 519.2 329.2 520.0 324.8C520.6 321.2 521.0 319.8 521.6 319.8C522.6 319.8 523.1 335.6 524.1 335.6C525.1 335.6 525.6 334.3 526.6 333.1C527.6 331.9 528.1 332.4 529.1 329.8C529.8 328.1 530.1 325.2 530.8 322.3C531.3 320.2 531.5 317.3 532.0 317.3C532.6 317.3 533.0 322.3 533.6 322.3C534.5 322.3 534.9 320.6 535.8 319.8C536.6 319.0 537.1 319.7 537.9 318.2C538.7 316.7 539.1 312.3 539.9 312.3C540.6 312.3 540.9 315.5 541.6 318.2C542.3 320.9 542.6 325.7 543.3 325.7C544.3 325.7 544.8 325.7 545.8 325.7C546.9 325.7 547.5 322.3 548.6 322.3C549.4 322.3 549.9 326.7 550.7 328.1C551.7 329.7 552.2 329.2 553.2 329.8C554.2 330.4 554.7 331.1 555.7 331.1C556.4 331.1 556.7 321.8 557.4 319.0C558.4 314.9 558.9 316.3 559.9 314.0C560.9 311.7 561.4 310.2 562.4 307.4C563.4 304.6 563.9 302.9 564.9 299.9C565.5 297.9 565.9 294.9 566.5 294.9C567.5 294.9 568.0 294.9 569.0 294.9C569.7 294.9 570.0 285.8 570.7 284.1C571.6 282.4 572.0 282.4 572.9 282.4C573.8 282.4 574.3 282.4 575.2 282.9C576.1 283.4 576.5 284.1 577.4 284.9C578.0 285.5 578.4 286.2 579.0 286.2C579.7 286.2 580.0 283.6 580.7 283.6C581.7 283.6 582.2 286.6 583.2 286.6C584.2 286.6 584.7 283.6 585.7 283.6C586.3 283.6 586.7 289.9 587.3 289.9C588.0 289.9 588.3 286.1 589.0 284.1C589.7 282.1 590.0 282.3 590.7 279.9C591.3 277.6 591.7 275.5 592.3 272.4C593.0 269.1 593.3 266.4 594.0 264.1C594.7 261.8 595.0 263.8 595.7 260.8C596.1 258.8 596.4 252.9 596.8 251.6C597.3 250.3 597.6 250.3 598.1 250.3C598.5 250.3 598.6 255.7 599.0 261.6C599.3 266.9 599.5 276.4 599.8 278.3C600.3 280.2 600.6 280.2 601.1 280.2C601.9 280.2 602.3 280.2 603.1 278.3C603.8 276.4 604.1 267.4 604.8 267.4C605.5 267.4 605.8 274.0 606.5 277.4C607.1 280.6 607.5 284.1 608.1 284.1C609.0 284.1 609.4 280.8 610.3 279.1C611.1 277.5 611.5 275.8 612.3 275.8C612.6 275.8 612.8 275.8 613.1 275.8C613.6 275.8 613.9 289.9 614.4 289.9C615.2 289.9 615.6 289.6 616.4 288.2C617.2 286.8 617.6 282.9 618.4 282.9C619.3 282.9 619.7 285.6 620.6 286.6C621.5 287.6 621.9 287.9 622.8 287.9C623.4 287.9 623.8 284.0 624.4 279.9C625.1 275.5 625.4 266.6 626.1 266.6C626.6 266.6 626.8 266.6 627.3 267.4C627.7 268.2 628.0 272.9 628.4 274.1C629.3 275.3 629.7 274.8 630.6 275.3C631.6 275.8 632.1 275.3 633.1 276.6C633.6 277.9 633.9 282.0 634.4 288.2C634.9 293.9 635.1 299.9 635.6 306.5C635.9 310.9 636.1 315.7 636.4 315.7C636.7 315.7 636.9 308.1 637.2 304.0C638.2 299.9 638.7 301.7 639.7 299.9C640.7 298.1 641.2 296.6 642.2 294.9C642.8 293.9 643.0 293.2 643.6 293.2C644.0 293.2 644.3 295.8 644.7 303.2C645.0 308.6 645.2 314.3 645.5 325.0C645.7 333.0 645.9 339.0 646.1 349.9C646.3 359.0 646.4 369.1 646.6 374.9C647.2 380.7 647.4 379.6 648.0 380.7C649.1 382.8 649.7 382.9 650.8 382.9C651.3 382.9 651.6 379.1 652.1 379.1C652.7 379.1 653.0 387.4 653.6 387.4C654.1 387.4 654.4 377.6 654.9 373.2C655.5 368.5 655.7 364.6 656.3 364.6C656.9 364.6 657.3 364.8 657.9 366.2C658.7 367.9 659.1 370.0 659.9 372.4C660.7 374.8 661.1 372.4 661.9 378.2C662.3 384.0 662.5 402.3 662.9 402.3C663.6 402.3 663.9 390.7 664.6 386.5C665.3 382.3 665.6 381.5 666.3 381.5C666.9 381.5 667.3 384.5 667.9 386.5C668.7 389.0 669.1 392.9 669.9 392.9C670.6 392.9 670.9 384.8 671.6 384.0C672.1 383.2 672.4 384.0 672.9 383.2C673.4 382.4 673.6 373.3 674.1 369.9C674.7 365.4 675.1 363.3 675.7 363.3C676.4 363.3 676.7 365.0 677.4 366.6C678.2 368.5 678.6 371.9 679.4 371.9C680.1 371.9 680.5 360.8 681.2 356.6C682.0 352.0 682.4 349.9 683.2 349.9C683.8 349.9 684.0 356.7 684.6 361.6C684.9 364.4 685.1 369.1 685.4 369.1C686.2 369.1 686.6 364.1 687.4 364.1C687.8 364.1 688.1 364.1 688.5 364.1C688.9 364.1 689.1 371.9 689.5 376.6C689.9 380.8 690.0 386.5 690.4 386.5C691.0 386.5 691.3 374.1 691.9 374.1C692.3 374.1 692.5 378.2 692.9 378.2C693.3 378.2 693.6 368.7 694.0 365.7C694.5 362.4 694.7 362.4 695.2 362.4C695.9 362.4 696.2 365.2 696.9 366.6C697.5 367.9 697.9 369.1 698.5 369.1C699.1 369.1 699.3 365.3 699.9 360.8C700.4 356.6 700.7 347.5 701.2 347.5C701.8 347.5 702.2 348.3 702.8 348.3C703.3 348.3 703.5 346.3 704.0 346.3C704.9 346.3 705.3 348.6 706.2 350.8C707.0 352.8 707.4 351.6 708.2 356.6C708.7 359.9 709.0 366.4 709.5 371.6C710.2 378.4 710.5 380.7 711.2 386.5C711.5 389.2 711.7 392.9 712.0 392.9C712.7 392.9 713.0 387.2 713.7 385.7C714.8 383.3 715.4 385.7 716.5 383.2C717.0 382.0 717.3 379.0 717.8 376.6C718.3 374.4 718.5 371.6 719.0 371.6C719.4 371.6 719.7 379.0 720.1 380.7C720.7 382.4 720.9 382.4 721.5 382.4C722.1 382.4 722.5 379.4 723.1 378.2C724.1 376.4 724.6 376.9 725.6 374.9C726.3 373.6 726.6 373.3 727.3 369.9C727.8 367.5 728.0 360.3 728.5 360.3C728.9 360.3 729.1 361.2 729.5 366.6C730.0 373.7 730.3 391.5 730.8 391.5C731.4 391.5 731.7 379.9 732.3 379.9C733.0 379.9 733.3 380.6 734.0 382.4C734.8 384.6 735.3 385.0 736.1 389.9C736.6 392.7 736.8 396.3 737.3 401.5C737.7 406.3 738.0 411.2 738.4 414.8C739.0 419.3 739.2 421.8 739.8 421.8C740.4 421.8 740.8 413.9 741.4 412.3C742.4 410.7 742.9 411.3 743.9 410.7C744.6 410.3 744.9 410.7 745.6 409.8C746.1 408.9 746.3 395.1 746.8 391.5C747.2 387.9 747.4 387.9 747.8 387.9C748.2 387.9 748.5 393.6 748.9 396.5C749.4 399.7 749.6 403.2 750.1 403.2C750.7 403.2 751.1 398.0 751.7 394.9C752.6 390.7 753.0 388.3 753.9 384.9C754.6 382.3 754.9 379.9 755.6 379.9C756.2 379.9 756.6 379.9 757.2 380.7C757.9 381.5 758.2 385.2 758.9 388.2C759.6 391.2 759.9 393.5 760.6 395.7C761.2 397.8 761.6 398.2 762.2 399.0C763.1 399.8 763.5 399.8 764.4 399.8C764.9 399.8 765.1 396.3 765.6 391.5C766.0 387.1 766.3 379.8 766.7 376.6C767.4 371.3 767.8 370.2 768.5 370.2C769.0 370.2 769.2 377.4 769.7 381.5C770.2 385.9 770.5 389.8 771.0 391.5C772.0 393.2 772.4 391.5 773.4 393.2C774.2 394.9 774.7 399.5 775.5 399.5C775.9 399.5 776.2 384.4 776.6 378.6C777.6 372.8 778.1 375.3 779.1 372.8C780.1 370.4 780.5 368.4 781.5 366.2C782.5 363.9 783.0 361.6 784.0 361.6C784.5 361.6 784.7 361.6 785.2 363.0C785.7 364.4 786.0 373.2 786.5 379.4C787.3 389.0 787.7 402.5 788.5 402.5C789.0 402.5 789.3 398.9 789.8 387.7C790.3 376.5 790.6 359.0 791.1 346.5C791.9 326.3 792.4 306.0 793.2 306.0C793.7 306.0 793.9 314.4 794.4 330.0C794.5 333.9 794.6 350.5 794.7 354.7C795.0 366.0 795.2 368.7 795.5 368.7C796.2 368.7 796.5 356.4 797.2 356.4C798.2 356.4 798.7 358.0 799.7 358.8C800.7 359.6 801.1 358.8 802.1 360.5C802.5 362.2 802.6 365.5 803.0 369.5C803.4 374.4 803.7 382.7 804.1 382.7C804.6 382.7 804.9 378.6 805.4 378.6C806.1 378.6 806.4 381.5 807.1 384.4C808.1 388.5 808.5 391.4 809.5 395.9C810.3 399.6 810.7 405.0 811.5 405.0C812.2 405.0 812.5 401.7 813.2 401.7C813.6 401.7 813.8 413.3 814.2 417.3C814.6 421.7 814.9 422.6 815.3 422.6C816.0 422.6 816.3 417.9 817.0 416.5C818.0 414.6 818.4 414.8 819.4 414.4C820.4 414.0 820.9 414.0 821.9 414.0C822.7 414.0 823.1 416.5 823.9 416.5C824.6 416.5 825.0 401.7 825.7 399.2C826.3 396.7 826.6 396.7 827.2 396.7C827.9 396.7 828.3 399.7 829.0 402.5C829.8 405.6 830.2 408.5 831.0 411.6C831.6 414.1 832.0 416.5 832.6 416.5C833.3 416.5 833.6 411.8 834.3 409.1C834.7 407.7 834.8 406.1 835.2 406.1C835.8 406.1 836.1 414.0 836.7 416.5C837.7 419.0 838.2 419.0 839.2 419.0C839.8 419.0 840.2 419.0 840.8 418.6C841.4 418.2 841.6 414.7 842.2 409.1C842.6 404.7 842.9 396.8 843.3 393.4C844.0 388.2 844.3 387.7 845.0 387.7C845.4 387.7 845.7 387.7 846.1 387.7C847.0 387.7 847.4 391.3 848.3 393.4C848.9 394.9 849.3 396.7 849.9 396.7C850.4 396.7 850.6 391.0 851.1 391.0C851.6 391.0 851.9 396.9 852.4 400.8C852.9 404.7 853.2 410.7 853.7 410.7C854.2 410.7 854.4 399.2 854.9 395.9C855.5 392.6 855.9 393.5 856.5 392.6C857.5 391.2 858.0 392.6 859.0 390.1C859.6 387.6 860.0 381.1 860.6 381.1C861.3 381.1 861.6 390.1 862.3 390.1C863.1 390.1 863.4 381.1 864.2 381.1C865.1 381.1 865.5 382.1 866.4 382.7C867.4 383.4 867.9 384.4 868.9 384.4C869.7 384.4 870.0 377.8 870.8 377.8C871.4 377.8 871.6 382.7 872.2 382.7C872.8 382.7 873.2 373.7 873.8 373.7C874.4 373.7 874.8 374.8 875.4 376.1C876.2 377.7 876.6 377.5 877.4 381.1C877.9 383.4 878.2 386.3 878.7 391.0C879.1 394.2 879.2 400.8 879.6 400.8C880.0 400.8 880.3 389.5 880.7 384.4C881.2 378.3 881.5 375.2 882.0 372.8C882.5 370.4 883.2 370.4 883.2 370.4"/>
</g>
</svg></body></html>
